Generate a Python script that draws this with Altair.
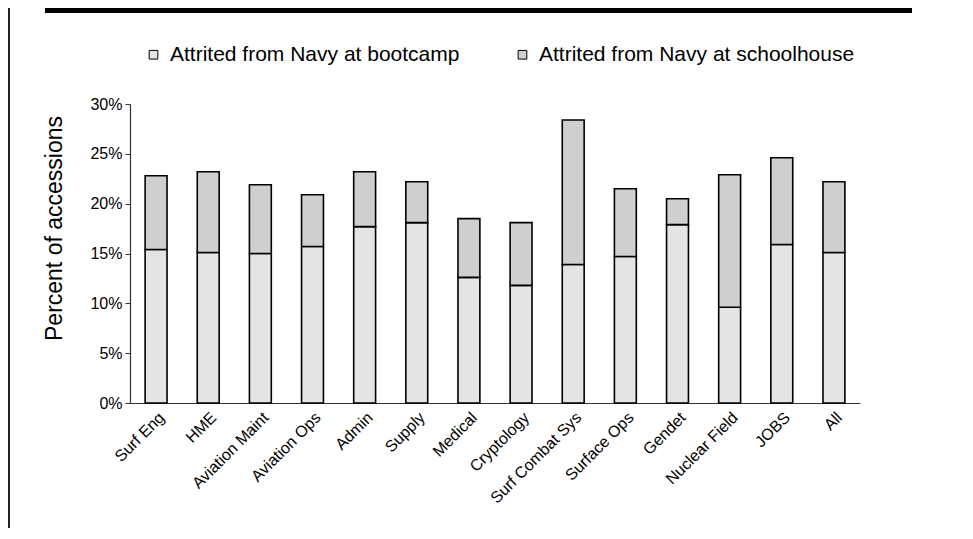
import altair as alt
import pandas as pd

categories = ["Surf Eng", "HME", "Aviation Maint", "Aviation Ops", "Admin", "Supply",
              "Medical", "Cryptology", "Surf Combat Sys", "Surface Ops", "Gendet",
              "Nuclear Field", "JOBS", "All"]
bootcamp = [15.4, 15.1, 15.0, 15.7, 17.7, 18.1, 12.6, 11.8, 13.9, 14.7, 17.9, 9.6, 15.9, 15.1]
schoolhouse = [7.4, 8.1, 6.9, 5.2, 5.5, 4.1, 5.9, 6.3, 14.5, 6.8, 2.6, 13.3, 8.7, 7.1]
series = ["Attrited from Navy at bootcamp", "Attrited from Navy at schoolhouse"]
y_ticks = [0, 5, 10, 15, 20, 25, 30]

rows = []
for i, c in enumerate(categories):
    rows.append({"cat": c, "series": series[0], "val": bootcamp[i], "ord": 0})
    rows.append({"cat": c, "series": series[1], "val": schoolhouse[i], "ord": 1})
df = pd.DataFrame(rows)

FONT = "Liberation Sans"

bars = alt.Chart(df).mark_bar(stroke="black", strokeWidth=1.6).encode(
    x=alt.X("cat:N", sort=categories, title=None,
            scale=alt.Scale(paddingInner=0.58, paddingOuter=0.29),
            axis=alt.Axis(labelAngle=-45, labelAlign="right", labelBaseline="top",
                          labelFontSize=16, labelFont=FONT, labelColor="black",
                          ticks=False, labelPadding=6, domainColor="#333333",
                          domainWidth=1.2, grid=False)),
    y=alt.Y("val:Q", stack="zero", title="Percent of accessions",
            scale=alt.Scale(domain=[0, 30], nice=False),
            axis=alt.Axis(values=y_ticks, labelExpr="datum.value + '%'",
                          labelFontSize=16, labelFont=FONT, labelColor="black",
                          tickColor="#333333", tickSize=5, labelPadding=3,
                          domainColor="#333333", domainWidth=1.2, grid=False,
                          titleFontSize=23, titleFont=FONT, titleFontWeight="normal",
                          titleColor="black", titleX=-64, titleY=124)),
    color=alt.Color("series:N", scale=alt.Scale(domain=series, range=["#e4e4e4", "#cfcfcf"]),
                    legend=alt.Legend(orient="none", legendX=13, legendY=-60,
                                      direction="horizontal", title=None,
                                      symbolType="square", symbolSize=75,
                                      symbolStrokeColor="black", symbolStrokeWidth=1,
                                      labelFontSize=21, labelFont=FONT, labelColor="black",
                                      columnPadding=52, labelLimit=500,
                                      labelOffset=6)),
    order=alt.Order("ord:Q"),
)

deco = alt.Data(values=[{"a": 1}])
top_rule = alt.Chart(deco).mark_rule(color="black", strokeWidth=6).encode(
    x=alt.value(-85), x2=alt.value(782), y=alt.value(-94))
left_rule = alt.Chart(deco).mark_rule(color="#222222", strokeWidth=2).encode(
    x=alt.value(-121), y=alt.value(-96), y2=alt.value(424))

chart = alt.layer(bars, top_rule, left_rule).properties(
    width=730, height=299,
    autosize=alt.AutoSizeParams(type="none"),
    padding={"left": 122, "top": 96, "right": 100, "bottom": 125},
    background="white",
).configure_view(stroke=None)

chart.save("out.html", embed_options={"renderer": "svg", "actions": False})
